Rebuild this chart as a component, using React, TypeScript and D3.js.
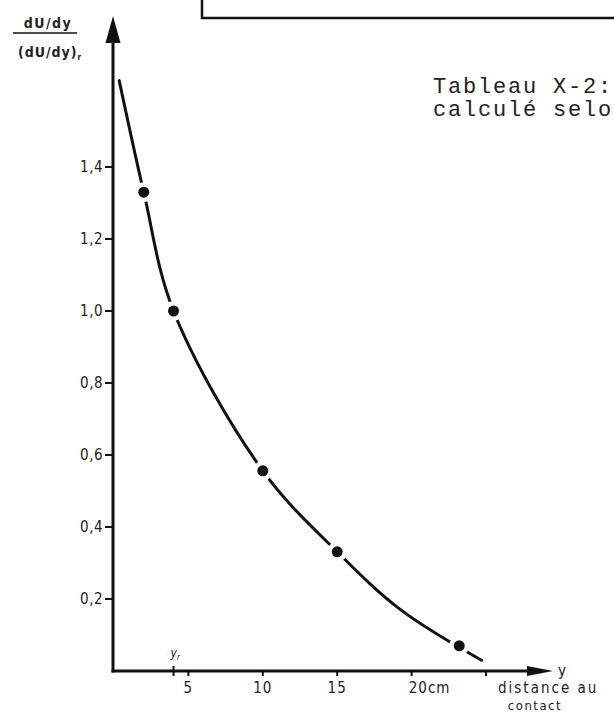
import * as d3 from 'd3'

// measured points (the black dots)
const dotX = [2, 4, 10, 15, 23.2]
const dotY = [1.33, 1.0, 0.556, 0.331, 0.07]

// points
const curveX = [0.35, 2, 4, 10, 15, 19.3, 24.7]
const curveY = [1.64, 1.33, 1.0, 0.556, 0.331, 0.169, 0.03]

const yTicks = [0.2, 0.4, 0.6, 0.8, 1.0, 1.2, 1.4]
const yTickLabels = ['0,2', '0,4', '0,6', '0,8', '1,0', '1,2', '1,4']
const xTicks = [5, 10, 15, 20, 25]
const xTickLabels = ['5', '10', '15', '20cm', '']
const yRef = 4

const W = 614
const H = 716

const App = () => {
    const x = d3.scaleLinear().domain([0, 25]).range([114, 486])
    const y = d3.scaleLinear().domain([0, 1.4]).range([671, 167])

    const axisX = 113
    const axisY = y(0)

    const line = d3
        .line<number>()
        .x(i => x(curveX[i]))
        .y(i => y(curveY[i]))
        .curve(d3.curveCatmullRom.alpha(0.5))

    const sans = 'DejaVu Sans Condensed, DejaVu Sans, sans-serif'

    return (
        <svg width={W} height={H} style={{ position: 'fixed', left: 0, top: 0, background: '#fff' }}>
            {/* box at the top */}
            <rect x={202} y={-10} width={430} height={28} fill="none" stroke="#111" strokeWidth={2.5} />

            <text x={433} y={93} fontFamily="Liberation Mono, monospace" fontSize={22} letterSpacing={1.8} fill="#222">
                Tableau X-2:
            </text>
            <text x={433} y={116} fontFamily="Liberation Mono, monospace" fontSize={22} letterSpacing={1.8} fill="#222">
                calculé selo
            </text>

            {/* y label as a fraction */}
            <text x={48} y={28} textAnchor="middle" fontFamily={sans} fontSize={14} fontWeight="bold" letterSpacing={1.5} fill="#222">
                dU/dy
            </text>
            <line x1={13} x2={77} y1={33} y2={33} stroke="#111" strokeWidth={1.5} />
            <text x={50} y={57} textAnchor="middle" fontFamily={sans} fontSize={14} fontWeight="bold" letterSpacing={1} fill="#222">
                (dU/dy)<tspan fontSize={8} dy={3}>r</tspan>
            </text>

            {/* curve */}
            <path
                d={line(d3.range(curveX.length)) ?? ''}
                fill="none"
                stroke="#111"
                strokeWidth={3}
                strokeLinecap="round"
            />

            {/* dots with gaps cut in the curve */}
            {dotX.map((d, i) => (
                <g key={i}>
                    <circle cx={x(d)} cy={y(dotY[i])} r={10} fill="#fff" />
                    <circle cx={x(d)} cy={y(dotY[i])} r={5.5} fill="#111" />
                </g>
            ))}

            {/* y axis */}
            <line x1={axisX} x2={axisX} y1={axisY + 1.5} y2={40} stroke="#111" strokeWidth={3} />
            <polygon points={`${axisX - 7.5},43 ${axisX},16 ${axisX + 7.5},43`} fill="#111" />
            {yTicks.map((t, i) => (
                <g key={i}>
                    <line x1={axisX - 8} x2={axisX} y1={y(t)} y2={y(t)} stroke="#111" strokeWidth={2} />
                    <text
                        x={axisX - 10}
                        y={y(t)}
                        dy="0.35em"
                        textAnchor="end"
                        fontFamily={sans}
                        fontSize={15}
                        letterSpacing={0.5}
                        fill="#222"
                    >
                        {yTickLabels[i]}
                    </text>
                </g>
            ))}

            {/* x axis */}
            <line x1={axisX - 1.5} x2={530} y1={axisY} y2={axisY} stroke="#111" strokeWidth={3} />
            <polygon points={`527,${axisY - 5} 553,${axisY} 527,${axisY + 5}`} fill="#111" />
            <text x={558} y={axisY + 5} fontFamily={sans} fontSize={15} fill="#111">y</text>
            {xTicks.map((t, i) => (
                <g key={i}>
                    <line x1={x(t)} x2={x(t)} y1={axisY} y2={axisY + 5} stroke="#111" strokeWidth={2} />
                    {xTickLabels[i] && (
                        <text
                            x={x(t) + (t === 20 ? 18 : 0)}
                            y={axisY + 22}
                            textAnchor="middle"
                            fontFamily={sans}
                            fontSize={15}
                            letterSpacing={1}
                            fill="#222"
                        >
                            {xTickLabels[i]}
                        </text>
                    )}
                </g>
            ))}
            {/* y_r mark */}
            <line x1={x(yRef)} x2={x(yRef)} y1={axisY - 5} y2={axisY + 5} stroke="#111" strokeWidth={2} />
            <text x={x(yRef) - 3} y={axisY - 14} fontFamily={sans} fontSize={12} fontStyle="italic" fill="#222">
                y<tspan fontSize={8} dy={3}>r</tspan>
            </text>

            <text x={498} y={axisY + 22} fontFamily={sans} fontSize={15} letterSpacing={2} fill="#222">
                distance au
            </text>
            <text x={535} y={axisY + 39} textAnchor="middle" fontFamily={sans} fontSize={13} letterSpacing={1.5} fill="#222">
                contact
            </text>
        </svg>
    )
}

export default App
